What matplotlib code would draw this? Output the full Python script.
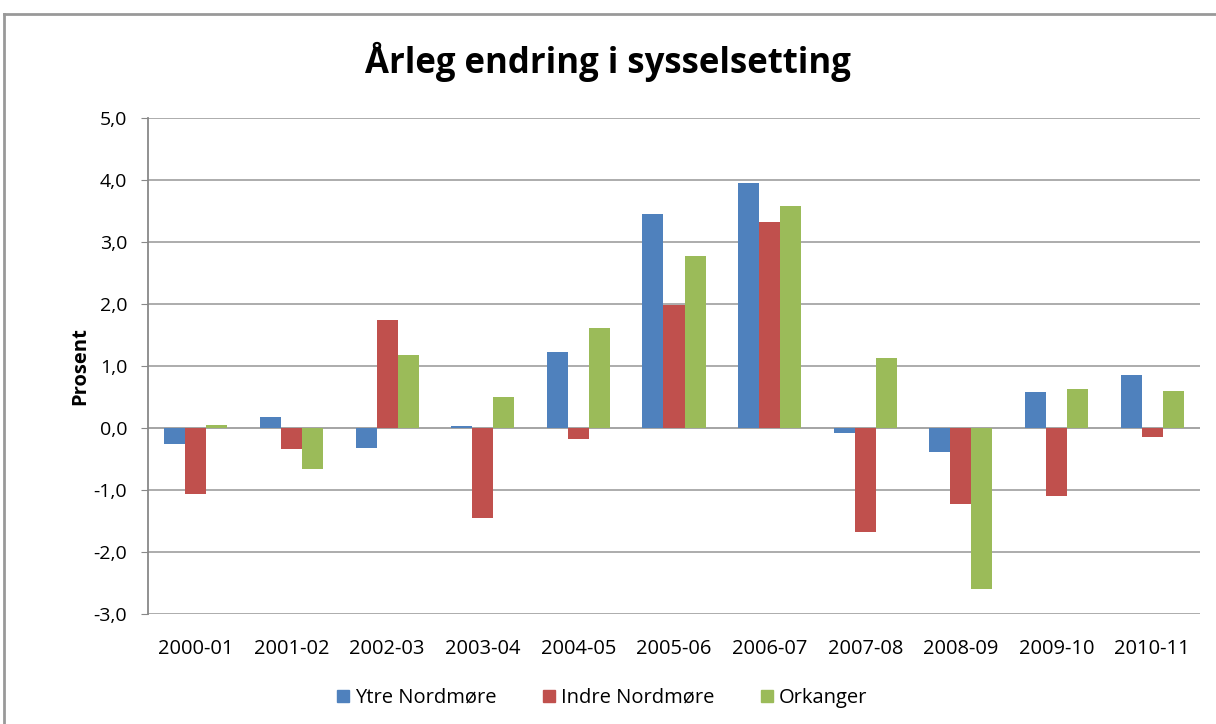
import matplotlib
matplotlib.use("Agg")
import matplotlib.pyplot as plt
import numpy as np
from matplotlib.lines import Line2D
from matplotlib import font_manager

categories = ["2000-01", "2001-02", "2002-03", "2003-04", "2004-05", "2005-06",
              "2006-07", "2007-08", "2008-09", "2009-10", "2010-11"]
ytre = [-0.26, 0.18, -0.33, 0.03, 1.23, 3.45, 3.95, -0.08, -0.38, 0.58, 0.85]
indre = [-1.07, -0.34, 1.75, -1.45, -0.18, 1.98, 3.33, -1.68, -1.23, -1.10, -0.15]
orkanger = [0.05, -0.66, 1.17, 0.50, 1.62, 2.77, 3.58, 1.13, -2.59, 0.63, 0.60]
series_names = ["Ytre Nordmøre", "Indre Nordmøre", "Orkanger"]
colors = ["#4F81BD", "#C0504D", "#9BBB59"]
yticks = [-3, -2, -1, 0, 1, 2, 3, 4, 5]

names = {f.name for f in font_manager.fontManager.ttflist}
fam = "Liberation Sans Narrow" if "Liberation Sans Narrow" in names else "Open Sans"
plt.rcParams["font.family"] = [fam, "DejaVu Sans"]

fig = plt.figure(figsize=(12.16, 7.24), dpi=100)
ax = fig.add_axes([148/1216, 1-614/724, 1052/1216, 496/724])

x = np.arange(len(categories))
w = 0.22
for i, (vals, c) in enumerate(zip([ytre, indre, orkanger], colors)):
    ax.bar(x + (i-1)*w, vals, width=w, color=c, label=series_names[i], zorder=3)

ax.set_xlim(-0.5, len(categories)-0.5)
ax.set_ylim(-3, 5)
ax.set_yticks(yticks)
ax.set_yticklabels([f"{v:.1f}".replace(".", ",") for v in yticks], fontsize=14)
ax.set_xticks(x)
ax.set_xticklabels(categories, fontsize=14.5)
ax.tick_params(axis="x", length=0, pad=18)
ax.tick_params(axis="y", length=5, color="#888888", pad=10, direction="out")
ax.yaxis.grid(True, color="#A6A6A6", linewidth=1.3, zorder=0)
ax.axhline(0, color="#A6A6A6", linewidth=1.3, zorder=1)
for s in ["top", "right", "bottom"]:
    ax.spines[s].set_visible(False)
ax.spines["left"].set_color("#888888")
ax.spines["left"].set_linewidth(1.3)
ax.set_ylabel("Prosent", fontsize=14.5, fontweight="bold", labelpad=2)

fig.text(0.5, 1-62/724, "Årleg endring i sysselsetting", fontsize=25, fontweight="bold",
         ha="center", va="center")

# legend
handles = [plt.Rectangle((0, 0), 1, 1, color=c) for c in colors]
fig.legend(handles, series_names, loc="center", bbox_to_anchor=(0.495, 1-698/724),
           ncol=3, frameon=False, fontsize=14.5, handlelength=0.6, handleheight=0.6,
           handletextpad=0.3, columnspacing=2.3)

# outer chart border
fig.add_artist(Line2D([4/1216, 1], [1-14/724, 1-14/724], color="#999999", linewidth=2))
fig.add_artist(Line2D([4/1216, 4/1216], [0, 1-14/724], color="#999999", linewidth=2))

fig.savefig("out.png", dpi=100)
